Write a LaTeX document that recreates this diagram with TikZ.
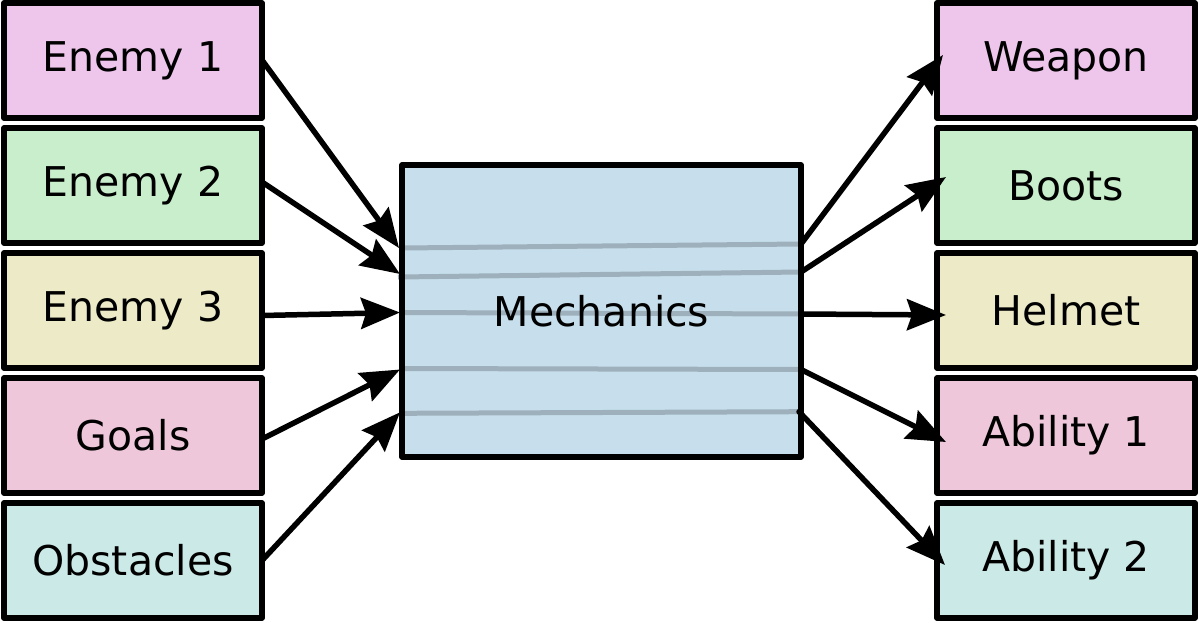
\documentclass[tikz,border=0pt]{standalone}
\usepackage{fontspec}
\setmainfont{DejaVu Sans}
\usetikzlibrary{arrows.meta,calc}
\definecolor{cpink}{HTML}{EEC6EC}
\definecolor{cgreen}{HTML}{C8EECB}
\definecolor{cyellow}{HTML}{ECEAC7}
\definecolor{crose}{HTML}{EEC8DA}
\definecolor{ccyan}{HTML}{CBE9E7}
\definecolor{cblue}{HTML}{C7DFEC}
\definecolor{sepgrey}{HTML}{9EB0BC}
\begin{document}
\begin{tikzpicture}[x=1pt,y=-1pt,
  box/.style={draw=black,line width=5.5pt,line join=round,minimum width=258pt,minimum height=115pt,
    inner sep=0pt,outer sep=0pt,font=\fontsize{41}{48}\selectfont},
  mechbox/.style={box,minimum width=399pt,minimum height=292pt},
  arr/.style={line width=5.5pt,line cap=round,-{Stealth[length=39pt,width=31pt,inset=5pt]}},
  sep/.style={draw=sepgrey,line width=5pt}]
\useasboundingbox (0,0) rectangle (1199,622);

% left column
\node[box,fill=cpink]   (e1) at (133,60.5)  {Enemy 1};
\node[box,fill=cgreen]  (e2) at (133,185.5) {Enemy 2};
\node[box,fill=cyellow] (e3) at (133,310.5) {Enemy 3};
\node[box,fill=crose]   (go) at (133,435.5) {Goals};
\node[box,fill=ccyan]   (ob) at (133,560.5) {Obstacles};

% right column
\node[box,fill=cpink]   (we) at (1066,60.5)  {Weapon};
\node[box,fill=cgreen]  (bo) at (1066,185.5) {Boots};
\node[box,fill=cyellow] (he) at (1066,310.5) {Helmet};
\node[box,fill=crose]   (a1) at (1066,435.5) {Ability 1};
\node[box,fill=ccyan]   (a2) at (1066,560.5) {Ability 2};

% mechanics
\node[mechbox,draw=none,fill=cblue] (mech) at (601.5,311) {};
\coordinate (m1l) at (402,248);   \coordinate (m1r) at (801,244);
\coordinate (m2l) at (398,277);   \coordinate (m2r) at (801,272);
\coordinate (m3l) at (402,312.5); \coordinate (m3r) at (801,314);
\coordinate (m4l) at (402,368.5); \coordinate (m4r) at (801,369.5);
\coordinate (m5l) at (402,413.3); \coordinate (m5r) at (799,411.7);
\draw[sep] (m1l) -- (m1r);
\draw[sep] (m2l) -- (m2r);
\draw[sep] (m3l) -- (m3r);
\draw[sep] (m4l) -- (m4r);
\draw[sep] (m5l) -- (m5r);
\node[mechbox] (mechlabel) at (mech) {Mechanics};

% inputs
\draw[arr] ($(e1.east)+(0,-0.5)$) -- ($(m1l)+(-3,0)$);
\draw[arr] ($(e2.east)+(0,-3.5)$) -- ($(m2l)+(2,-3)$);
\draw[arr] ($(e3.east)+(0,5)$) -- ($(m3l)+(-2,0)$);
\draw[arr] ($(go.east)+(0,3.5)$) -- ($(m4l)+(-2,1)$);
\draw[arr] (ob.east) -- ($(m5l)+(-2,-1)$);

% outputs
\draw[arr] (m1r) -- ($(we.west)+(6,-5.5)$);
\draw[arr] (m2r) -- ($(bo.west)+(9,-8.5)$);
\draw[arr] (m3r) -- ($(he.west)+(9,4.5)$);
\draw[arr] (m4r) -- ($(a1.west)+(9,6.5)$);
\draw[arr] (m5r) -- ($(a2.west)+(8,4.5)$);
\end{tikzpicture}
\end{document}
